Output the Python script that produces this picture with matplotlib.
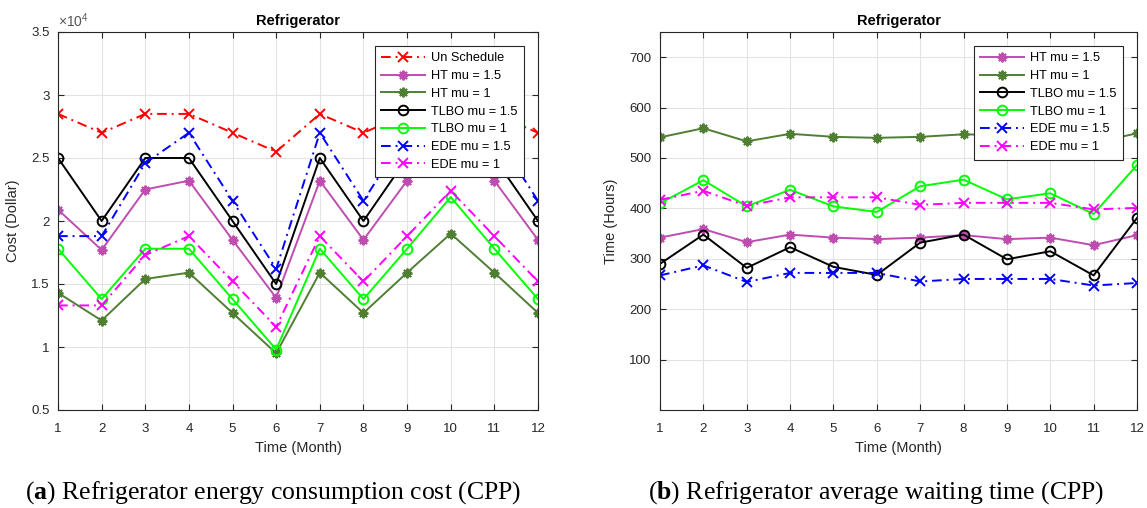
import numpy as np
import matplotlib
matplotlib.use('Agg')
import matplotlib.pyplot as plt
from matplotlib.ticker import FuncFormatter

months = np.arange(1, 13)

# energy consumption cost (Dollar)
cost_unsched = [28500, 27000, 28500, 28500, 27000, 25500, 28500, 27000, 28500, 28500, 28500, 27000]
cost_ht15 = [20900, 17700, 22500, 23200, 18500, 13900, 23200, 18500, 23200, 26500, 23200, 18500]
cost_ht1 = [14300, 12100, 15400, 15900, 12700, 9500, 15900, 12700, 15900, 19000, 15900, 12700]
cost_tlbo15 = [25000, 20000, 25000, 25000, 20000, 15000, 25000, 20000, 25000, 29000, 25000, 20000]
cost_tlbo1 = [17800, 13800, 17800, 17800, 13800, 9800, 17800, 13800, 17800, 21900, 17800, 13800]
cost_ede15 = [18800, 18800, 24600, 27000, 21600, 16200, 27000, 21600, 27000, 30000, 27000, 21600]
cost_ede1 = [13300, 13300, 17300, 18800, 15200, 11600, 18800, 15200, 18800, 22400, 18800, 15200]

# average waiting time (Hours)
wait_ht15 = [342, 359, 333, 348, 342, 339, 342, 347, 339, 342, 327, 347]
wait_ht1 = [541, 559, 533, 548, 542, 540, 542, 547, 545, 543, 530, 549]
wait_tlbo15 = [290, 348, 282, 323, 284, 268, 332, 348, 299, 315, 267, 381]
wait_tlbo1 = [410, 456, 404, 437, 404, 393, 444, 457, 418, 430, 389, 486]
wait_ede15 = [267, 287, 254, 272, 272, 272, 255, 260, 260, 260, 247, 252]
wait_ede1 = [417, 435, 405, 422, 422, 422, 407, 411, 411, 411, 398, 401]

plt.rcParams['font.family'] = ['Liberation Sans', 'DejaVu Sans']
plt.rcParams['mathtext.fontset'] = 'custom'
plt.rcParams['mathtext.rm'] = 'Liberation Sans'
plt.rcParams['mathtext.bf'] = 'Liberation Serif:bold'

dark = '#262626'
dashdot = (0, (5, 2.5, 1, 2.5))
asterisk = (8, 2, 0)

st = {
    'Un Schedule': dict(color='#FF0000', ls=dashdot, marker='x'),
    'HT mu = 1.5': dict(color='#BF4DB0', ls='-', marker=asterisk),
    'HT mu = 1': dict(color='#4F7F33', ls='-', marker=asterisk),
    'TLBO mu = 1.5': dict(color='#000000', ls='-', marker='o', mfc='none'),
    'TLBO mu = 1': dict(color='#00FF00', ls='-', marker='o', mfc='none'),
    'EDE mu = 1.5': dict(color='#0000FF', ls=dashdot, marker='x'),
    'EDE mu = 1': dict(color='#FF00FF', ls=dashdot, marker='x'),
}

fig = plt.figure(figsize=(11.47, 5.08), dpi=100)
ax1 = fig.add_axes([58 / 1147, 98 / 508, 480 / 1147, 378 / 508])
ax2 = fig.add_axes([660 / 1147, 98 / 508, 477 / 1147, 378 / 508])


def draw(ax, series):
    for name, vals in series:
        ax.plot(months, vals, label=name, lw=1.4, ms=7, mew=1.4, **st[name])
    ax.set_xlim(1, 12)
    ax.set_xticks(months)
    ax.grid(True, color='#E3E3E3', lw=0.8)
    ax.set_axisbelow(True)
    ax.tick_params(direction='in', top=True, right=True, length=4,
                   labelsize=9.5, colors=dark, pad=6)
    ax.tick_params(axis='x', pad=9)
    for s in ax.spines.values():
        s.set_color(dark)
        s.set_linewidth(0.8)
    ax.set_title('Refrigerator', fontsize=10.5, fontweight='bold', pad=5)
    ax.set_xlabel('Time (Month)', fontsize=10.5, color=dark, labelpad=5)
    leg = ax.legend(loc='upper right', fontsize=9.2, fancybox=False,
                    edgecolor=dark, framealpha=1, handlelength=3.4,
                    handletextpad=0.5, labelspacing=0.45, borderaxespad=1.1,
                    borderpad=0.5)
    leg.get_frame().set_linewidth(0.8)


draw(ax1, [('Un Schedule', cost_unsched), ('HT mu = 1.5', cost_ht15),
           ('HT mu = 1', cost_ht1), ('TLBO mu = 1.5', cost_tlbo15),
           ('TLBO mu = 1', cost_tlbo1), ('EDE mu = 1.5', cost_ede15),
           ('EDE mu = 1', cost_ede1)])
ax1.set_ylim(5000, 35000)
ax1.set_yticks(np.arange(5000, 35001, 5000))
ax1.yaxis.set_major_formatter(FuncFormatter(lambda v, p: '%g' % (v / 1e4)))
ax1.set_ylabel('Cost (Dollar)', fontsize=10.5, color=dark, labelpad=8)
ax1.text(0.0, 1.005, r'$\times10^{4}$', transform=ax1.transAxes,
         fontsize=10, color='#555555', ha='left', va='bottom')

draw(ax2, [('HT mu = 1.5', wait_ht15), ('HT mu = 1', wait_ht1),
           ('TLBO mu = 1.5', wait_tlbo15), ('TLBO mu = 1', wait_tlbo1),
           ('EDE mu = 1.5', wait_ede15), ('EDE mu = 1', wait_ede1)])
ax2.set_ylim(0, 750)
ax2.set_yticks(np.arange(100, 701, 100))
ax2.set_ylabel('Time (Hours)', fontsize=10.5, color=dark, labelpad=8)

fig.text(273 / 1147, 1 - 493 / 508,
         r'($\mathbf{a}$) Refrigerator energy consumption cost (CPP)',
         family='Liberation Serif', fontsize=18.5, ha='center', va='center')
fig.text(876 / 1147, 1 - 493 / 508,
         r'($\mathbf{b}$) Refrigerator average waiting time (CPP)',
         family='Liberation Serif', fontsize=18.5, ha='center', va='center')

fig.savefig('out.png', dpi=100)
